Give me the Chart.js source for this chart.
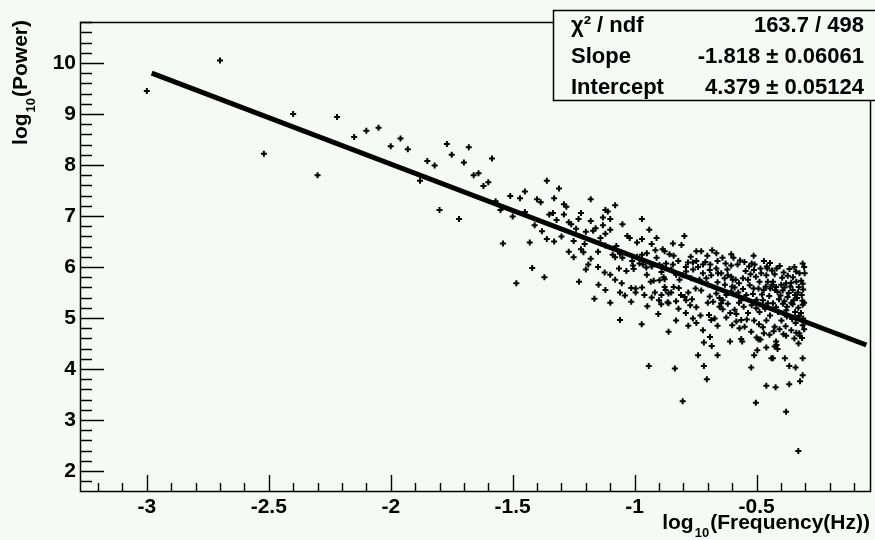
<!DOCTYPE html>
<html><head><meta charset="utf-8">
<script src="https://cdn.jsdelivr.net/npm/chart.js@4/dist/chart.umd.min.js"></script>
<style>html,body{margin:0;padding:0;background:#f5faf7;overflow:hidden}</style>
</head><body>
<canvas id="c" width="875" height="540" style="display:block;width:875px;height:540px"></canvas>
<script>
// ---- data ----
const xTickValues = [-3, -2.5, -2, -1.5, -1, -0.5];
const yTickValues = [2, 3, 4, 5, 6, 7, 8, 9, 10];
const fitX = [-2.98, -0.05];
const fitY = [9.80, 4.47];
const statLabels = ['χ² / ndf', 'Slope', 'Intercept'];
const statValues = ['163.7 / 498', '-1.818 ± 0.06061', '4.379 ± 0.05124'];
const xTitle = ['log', '10', '(Frequency(Hz))'];
const yTitle = ['log', '10', '(Power)'];
const powerPoints = [
[-3.00,9.45],[-2.70,10.05],[-2.52,8.22],[-2.40,9.00],[-2.30,7.80],[-2.22,8.94],[-2.15,8.55],[-2.10,8.67],
[-2.05,8.73],[-2.00,8.37],[-1.96,8.52],[-1.93,8.31],[-1.85,8.08],[-1.82,7.99],[-1.88,7.69],[-1.77,8.41],
[-1.75,8.20],[-1.68,8.35],[-1.70,8.05],[-1.585,8.13],[-1.66,7.80],[-1.64,7.84],[-1.62,7.59],[-1.60,7.66],
[-1.80,7.12],[-1.72,6.94],[-1.57,7.29],[-1.55,7.12],[-1.51,7.39],[-1.47,7.35],[-1.45,7.48],[-1.50,6.99],
[-1.45,7.08],[-1.54,6.46],[-1.43,6.48],[-1.42,5.98],[-1.485,5.68],[-1.37,5.80],[-1.41,6.82],[-1.38,6.70],
[-1.40,7.33],[-1.385,7.27],[-1.36,7.69],[-1.33,7.35],[-1.31,7.54],[-1.35,7.03],[-1.335,7.06],[-1.32,6.92],
[-1.18,7.33],[-1.29,7.23],[-1.28,7.18],[-1.29,7.03],[-1.22,7.06],[-1.23,6.94],[-1.27,6.88],[-1.26,6.84],
[-1.12,7.12],[-1.11,7.09],[-1.08,7.21],[-1.13,6.97],[-1.10,6.94],[-1.13,6.82],[-1.10,6.73],[-1.16,6.76],
[-1.17,6.71],[-1.20,6.69],[-1.12,6.65],[-1.14,6.57],[-1.05,6.84],[-0.97,6.94],[-0.94,6.73],[-0.91,6.57],
[-0.97,6.55],[-1.03,6.61],[-1.02,6.57],[-0.99,6.48],[-0.93,6.45],[-1.25,6.51],[-1.205,6.45],[-1.22,6.35],
[-1.21,6.29],[-1.25,6.19],[-1.18,6.16],[-1.075,6.41],[-1.09,6.24],[-1.08,6.19],[-1.06,6.26],[-1.05,6.18],
[-1.01,6.12],[-0.99,6.20],[-0.97,6.24],[-0.95,6.27],[-0.915,6.33],[-0.885,6.35],[-0.877,6.31],[-0.91,6.18],
[-0.98,6.07],[-0.966,6.05],[-1.007,6.03],[-1.064,5.97],[-1.034,5.92],[-1.004,5.96],[-0.952,5.99],[-0.93,6.01],
[-0.898,6.04],[-0.887,6.01],[-1.123,5.89],[-1.228,5.71],[-1.148,5.65],[-1.053,5.68],[-1.014,5.59],[-0.996,5.58],
[-0.996,5.50],[-1.04,5.44],[-1.014,5.32],[-1.165,5.38],[-0.934,5.71],[-0.922,5.73],[-0.898,5.74],[-0.877,5.76],
[-0.877,5.61],[-0.873,5.55],[-0.917,5.50],[-0.861,5.48],[-0.948,5.23],[-0.903,5.08],[-0.891,5.27],[-0.861,5.29],
[-1.06,4.96],[-0.971,4.88],[-0.861,4.73],[-0.942,4.06],
[-0.835,4.01],[-0.803,3.37],[-0.74,4.27],[-0.716,4.06],[-0.704,3.80],[-0.66,4.27],[-0.716,4.52],[-0.684,4.45],
[-0.691,4.63],[-0.609,4.54],[-0.563,4.59],[-0.559,4.54],[-0.522,4.03],[-0.51,4.27],[-0.497,4.37],[-0.503,3.34],
[-0.492,4.58],[-0.484,4.58],[-0.46,4.42],[-0.46,3.67],[-0.422,3.64],[-0.439,4.21],[-0.433,4.21],[-0.426,4.44],
[-0.418,4.47],[-0.414,4.39],[-0.42,4.54],[-0.379,4.65],[-0.384,4.21],[-0.379,3.16],[-0.366,4.06],[-0.366,3.70],
[-0.34,4.03],[-0.328,4.50],[-0.322,4.65],[-0.314,4.61],[-0.311,4.21],[-0.311,3.88],[-0.322,3.76],[-0.329,2.39],
[-0.796,6.61],[-0.843,6.46],[-0.808,6.43],[-0.857,6.25],[-0.84,6.22],[-0.747,6.31],[-0.727,6.31],[-0.702,6.22],
[-0.682,6.33],[-0.665,6.27],[-0.604,6.25],[-0.512,6.22],[-0.568,6.13],[-0.821,6.12],[-0.781,6.09],[-0.761,6.09],
[-0.747,6.12],[-0.72,6.05],[-0.627,6.07],[-0.604,6.03],[-0.52,6.07],[-0.508,6.05],[-0.311,6.07],[-0.458,6.01],
[-0.426,5.86],[-0.389,5.89],[-0.324,5.88],[-0.303,5.88],[-0.351,5.80],[-0.317,5.73],[-0.311,5.67],[-0.871,6.07],
[-0.843,6.05],[-0.881,5.80],[-0.84,5.61],[-0.819,5.59],[-0.865,5.31],[-0.83,5.33],[-0.795,5.41],[-0.789,5.35],
[-0.765,5.37],[-0.747,5.21],[-0.772,5.25],[-0.727,5.54],[-0.761,4.99],[-0.747,4.90],[-0.695,5.06],[-0.686,4.96],
[-0.672,4.99],[-0.624,5.01],[-0.72,4.76],[-0.652,5.22],[-0.639,5.17],[-0.645,5.29],[-0.59,5.16],[-0.583,5.08],
[-0.583,4.93],[-0.563,4.96],[-0.54,4.97],[-0.549,4.83],[-0.522,4.73],[-0.474,4.82],[-0.447,4.67],[-0.426,4.83],
[-0.406,4.78],[-0.381,4.84],[-0.358,4.76],[-0.337,4.71],[-0.311,4.86],[-0.34,4.90],
[-0.531,6.01],[-0.511,5.94],[-0.484,5.97],[-0.456,5.97],[-0.481,5.88],[-0.46,5.84],[-0.488,5.71],[-0.454,5.71],
[-0.433,5.71],[-0.556,5.78],[-0.535,5.75],[-0.586,5.75],[-0.572,5.68],[-0.618,5.84],[-0.604,5.81],[-0.598,5.75],
[-0.645,5.88],[-0.631,5.78],[-0.665,5.97],[-0.658,5.88],[-0.692,5.94],[-0.686,5.84],[-0.72,5.88],[-0.706,5.78],
[-0.734,5.75],[-0.768,5.78],[-0.789,5.91],[-0.803,5.84],[-0.816,5.75],
[-0.512,5.58],[-0.492,5.58],[-0.471,5.55],[-0.444,5.58],[-0.424,5.55],[-0.42,5.61],[-0.399,5.65],[-0.379,5.68],
[-0.358,5.69],[-0.337,5.71],[-0.414,5.51],[-0.393,5.54],[-0.368,5.49],[-0.352,5.55],[-0.331,5.50],[-0.309,5.56],
[-0.408,5.37],[-0.386,5.33],[-0.373,5.41],[-0.348,5.35],[-0.334,5.39],[-0.312,5.34],[-0.375,5.22],[-0.352,5.27],
[-0.329,5.20],[-0.311,5.26],[-0.433,5.29],[-0.42,5.21],[-0.474,5.35],[-0.454,5.29],[-0.501,5.19],[-0.488,5.12],
[-0.376,5.03],[-0.354,4.98],[-0.327,5.04],[-0.309,4.99],[-0.604,5.52],[-0.624,5.45],[-0.542,5.45],[-0.563,5.35],
[-0.665,5.48],[-0.652,5.39],[-0.639,5.35],[-0.692,5.42],[-0.678,5.32],
[-0.595,6.18],[-0.578,6.05],[-0.55,6.10],[-0.545,5.92],[-0.525,5.86],[-0.503,5.81],[-0.47,6.12],[-0.445,6.08],
[-0.437,5.93],[-0.418,5.97],[-0.405,6.02],[-0.395,5.79],[-0.372,5.83],[-0.365,5.96],[-0.345,6.00],[-0.338,5.91],
[-0.305,6.00],
[-0.59,5.60],[-0.575,5.50],[-0.556,5.57],[-0.528,5.64],[-0.515,5.47],[-0.50,5.36],[-0.478,5.46],[-0.462,5.62],
[-0.448,5.43],[-0.436,5.65],[-0.402,5.44],[-0.386,5.60],[-0.362,5.62],[-0.342,5.45],[-0.327,5.61],[-0.315,5.45],
[-0.305,5.30],[-0.357,5.30],[-0.392,5.28],[-0.412,5.12],[-0.445,5.05],[-0.465,5.18],[-0.52,5.25],[-0.535,5.10],
[-0.553,5.22],[-0.572,5.30],[-0.608,5.10],[-0.618,5.28],[-0.60,4.86],[-0.57,4.80],[-0.51,4.95],[-0.49,4.88],
[-0.46,4.95],[-0.398,4.95],[-0.378,5.15],[-0.342,5.12],[-0.318,5.10],[-0.305,4.78],[-0.325,4.70],[-0.345,4.60],
[-0.39,4.68],[-0.43,4.74],[-0.47,4.70],[-0.50,4.62],
[-0.89,5.90],[-0.85,5.95],[-0.83,5.85],[-0.79,6.00],[-0.77,6.20],[-0.76,5.95],[-0.74,6.00],[-0.71,6.10],
[-0.69,6.05],[-0.66,6.12],[-0.64,6.18],[-0.62,5.95],[-0.63,5.65],[-0.66,5.70],[-0.70,5.66],[-0.75,5.58],
[-0.78,5.50],[-0.81,5.45],[-0.85,5.50],[-0.89,5.45],[-0.90,5.35],[-0.82,5.18],[-0.79,5.10],[-0.73,5.05],
[-0.70,5.30],[-0.60,5.62],[-0.66,4.85],[-0.78,4.85],[-0.83,4.95],
[-1.19,6.05],[-1.15,6.30],[-1.12,6.42],[-1.15,6.00],[-1.10,5.85],[-1.08,5.75],[-1.12,5.55],[-1.06,5.50],
[-0.95,5.85],[-0.97,5.60],[-0.93,5.40],[-0.96,5.45],[-1.10,5.30],[-1.20,5.95],[-1.27,6.30],[-1.30,6.60],
[-1.33,6.50],[-1.24,6.75],[-1.18,6.90],[-1.36,6.55]
];

// ---- style ----
const BG = '#f5faf7';
const FONT = '"Liberation Sans", Arial, Helvetica, sans-serif';

function drawSubText(ctx, parts, size) {
  ctx.font = `bold ${size}px ${FONT}`;
  ctx.fillText(parts[0], 0, 0);
  const w0 = ctx.measureText(parts[0]).width;
  ctx.font = `bold ${Math.round(size * 0.6)}px ${FONT}`;
  ctx.fillText(parts[1], w0 + 1, size * 0.38);
  const w1 = ctx.measureText(parts[1]).width;
  ctx.font = `bold ${size}px ${FONT}`;
  ctx.fillText(parts[2], w0 + w1 + 2, 0);
}
function subTextWidth(ctx, parts, size) {
  ctx.font = `bold ${size}px ${FONT}`;
  let w = ctx.measureText(parts[0]).width + ctx.measureText(parts[2]).width;
  ctx.font = `bold ${Math.round(size * 0.6)}px ${FONT}`;
  return w + ctx.measureText(parts[1]).width + 2;
}

const rootStyle = {
  id: 'rootStyle',
  beforeDraw(chart) {
    const ctx = chart.ctx;
    ctx.save(); ctx.fillStyle = BG; ctx.fillRect(0, 0, chart.width, chart.height); ctx.restore();
  },
  beforeDatasetsDraw(chart) {
    const { ctx, chartArea: a, scales: { x, y } } = chart;
    ctx.save();
    ctx.strokeStyle = '#000';
    ctx.lineWidth = 1.5;
    ctx.strokeRect(a.left + 0.5, a.top + 0.5, a.right - a.left, a.bottom - a.top);
    ctx.lineWidth = 1.4;
    ctx.beginPath();
    for (let i = Math.ceil(x.min * 10); i <= Math.floor(x.max * 10); i++) {
      const px = Math.round(x.getPixelForValue(i / 10)) + 0.5;
      const len = (i % 5 === 0) ? 16 : 8;
      ctx.moveTo(px, a.bottom); ctx.lineTo(px, a.bottom - len);
    }
    for (let i = Math.ceil(y.min * 5); i <= Math.floor(y.max * 5); i++) {
      const py = Math.round(y.getPixelForValue(i / 5)) + 0.5;
      const len = (i % 5 === 0) ? 24 : 12;
      ctx.moveTo(a.left, py); ctx.lineTo(a.left + len, py);
    }
    ctx.stroke();
    ctx.restore();
  },
  afterDraw(chart) {
    const { ctx, chartArea: a } = chart;
    ctx.save();
    ctx.fillStyle = '#000';
    ctx.textAlign = 'left';
    ctx.textBaseline = 'alphabetic';
    const tsize = 21;
    const xw = subTextWidth(ctx, xTitle, tsize);
    ctx.save(); ctx.translate(a.right - xw, 529); drawSubText(ctx, xTitle, tsize); ctx.restore();
    const yw = subTextWidth(ctx, yTitle, tsize);
    ctx.save(); ctx.translate(27, 20 + yw); ctx.rotate(-Math.PI / 2); drawSubText(ctx, yTitle, tsize); ctx.restore();
    // stats box
    const bx = 553, by = 10, bw = 330, bh = 90;
    ctx.fillStyle = BG; ctx.fillRect(bx, by, bw, bh);
    ctx.strokeStyle = '#000'; ctx.lineWidth = 1.5;
    ctx.strokeRect(bx + 0.5, by + 0.5, bw, bh);
    ctx.fillStyle = '#000';
    ctx.font = `bold 22px ${FONT}`;
    const base = [32, 63, 94];
    statLabels.forEach((t, i) => { ctx.textAlign = 'left'; ctx.fillText(t, 571, base[i]); });
    statValues.forEach((t, i) => { ctx.textAlign = 'right'; ctx.fillText(t, 864, base[i]); });
    ctx.restore();
  }
};

new Chart(document.getElementById('c'), {
  type: 'scatter',
  data: {
    datasets: [
      {
        data: powerPoints.map(p => ({ x: p[0], y: p[1] })),
        pointStyle: 'cross', pointRadius: 3, pointHoverRadius: 3,
        pointBorderWidth: 2, borderColor: '#000', backgroundColor: '#000'
      },
      {
        type: 'line',
        data: fitX.map((v, i) => ({ x: v, y: fitY[i] })),
        borderColor: '#000', borderWidth: 5, pointRadius: 0, fill: false, tension: 0
      }
    ]
  },
  options: {
    responsive: false, animation: false, devicePixelRatio: 1,
    layout: { padding: { left: 0, right: 3, top: 22, bottom: 0 } },
    plugins: { legend: { display: false }, tooltip: { enabled: false } },
    scales: {
      x: {
        type: 'linear', min: -3.274, max: -0.035,
        grid: { display: false, drawTicks: false }, border: { display: false },
        ticks: { autoSkip: false, maxRotation: 0, padding: 4, color: '#000',
          font: { family: FONT, size: 21, weight: 'bold' }, callback: v => String(v) },
        afterBuildTicks: s => { s.ticks = xTickValues.map(v => ({ value: v })); },
        afterFit: s => { s.height = 49; }
      },
      y: {
        type: 'linear', min: 1.608, max: 10.804,
        grid: { display: false, drawTicks: false }, border: { display: false },
        ticks: { autoSkip: false, padding: 4, color: '#000',
          font: { family: FONT, size: 21, weight: 'bold' }, callback: v => String(v) },
        afterBuildTicks: s => { s.ticks = yTickValues.map(v => ({ value: v })); },
        afterFit: s => { s.width = 80; }
      }
    }
  },
  plugins: [rootStyle]
});
</script>
</body></html>
